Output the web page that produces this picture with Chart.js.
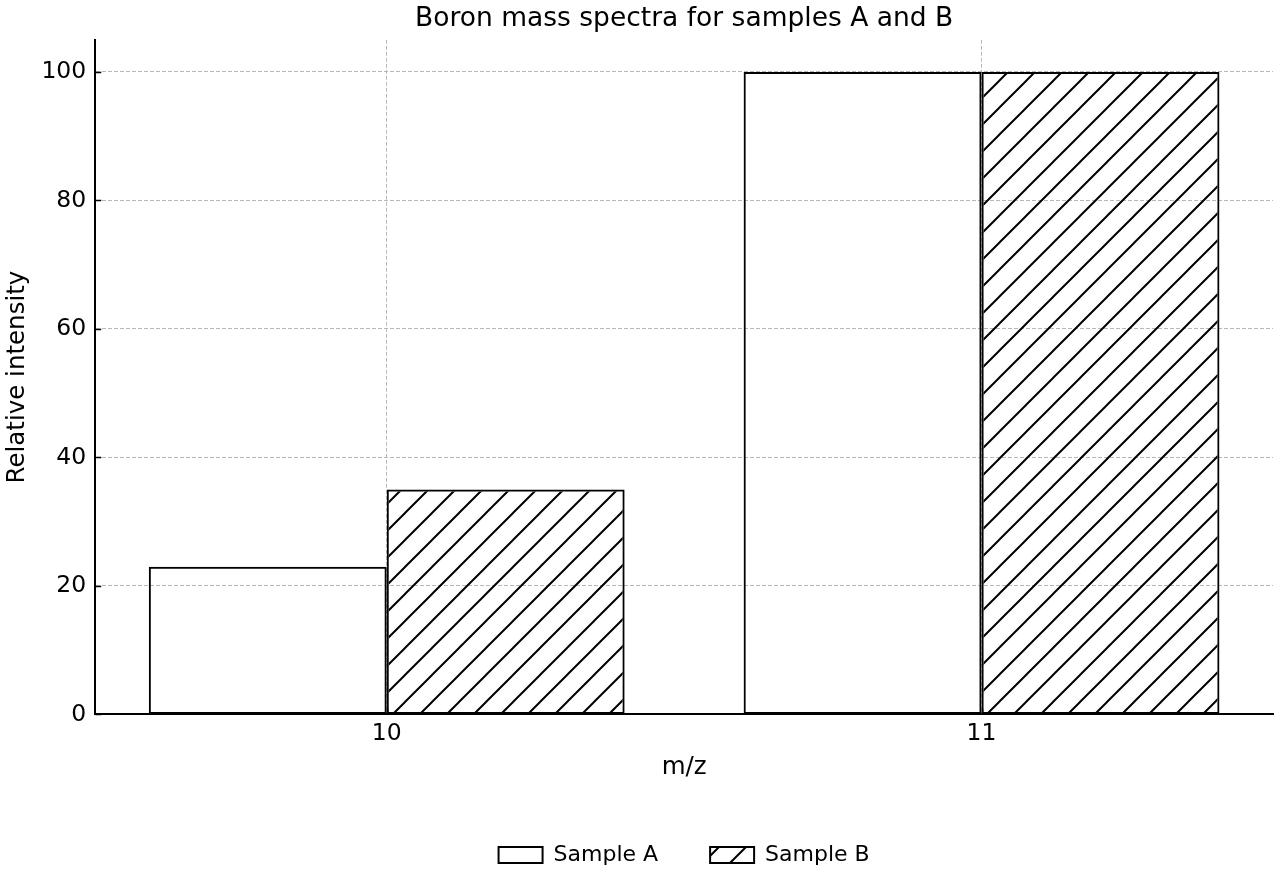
<!DOCTYPE html>
<html>
<head>
<meta charset="utf-8">
<title>Boron mass spectra</title>
<script src="https://cdn.jsdelivr.net/npm/chart.js@4.4.1/dist/chart.umd.min.js"></script>
<style>
  html, body { margin: 0; padding: 0; background: #fff; }
  #wrap { width: 1280px; height: 880px; }
</style>
</head>
<body>
<div id="wrap"><canvas id="myChart" width="1280" height="880"></canvas></div>
<script>
// data
const massNumbers = [10, 11];
const sampleA = [23, 100];
const sampleB = [35, 100];
const yTicks = [0, 20, 40, 60, 80, 100];

// "/" hatch like matplotlib
function makeHatch() {
  const s = 27;
  const c = document.createElement("canvas");
  c.width = s; c.height = s;
  const g = c.getContext("2d");
  g.strokeStyle = "#000";
  g.lineWidth = 2;
  g.beginPath();
  g.moveTo(-2, s + 2); g.lineTo(s + 2, -2);
  g.moveTo(-2, 2); g.lineTo(2, -2);
  g.moveTo(s - 2, s + 2); g.lineTo(s + 2, s - 2);
  g.stroke();
  return g.createPattern(c, "repeat");
}
const hatch = makeHatch();

// small inward tick marks (matplotlib style)
const innerTicks = {
  id: "innerTicks",
  afterDraw(chart) {
    const ctx = chart.ctx;
    const area = chart.chartArea;
    const x = chart.scales.x, y = chart.scales.y;
    ctx.save();
    ctx.strokeStyle = "#000";
    ctx.lineWidth = 1.6;
    ctx.beginPath();
    y.ticks.forEach((t, i) => {
      const py = Math.round(y.getPixelForTick(i)) + 0.5;
      ctx.moveTo(area.left, py); ctx.lineTo(area.left + 6, py);
    });
    x.ticks.forEach((t, i) => {
      const px = Math.round(x.getPixelForTick(i)) + 0.5;
      ctx.moveTo(px, area.bottom); ctx.lineTo(px, area.bottom - 6);
    });
    ctx.stroke();
    ctx.restore();
  }
};

const font = "'DejaVu Sans', sans-serif";
Chart.defaults.font.family = font;
Chart.defaults.color = "#000";

new Chart(document.getElementById("myChart"), {
  type: "bar",
  data: {
    datasets: [
      {
        label: "Sample A",
        data: massNumbers.map((m, i) => ({ x: m, y: sampleA[i] })),
        backgroundColor: "rgba(0,0,0,0)",
        borderColor: "#000",
        borderWidth: 2,
        borderSkipped: false,
        categoryPercentage: 0.8,
        barPercentage: 1
      },
      {
        label: "Sample B",
        data: massNumbers.map((m, i) => ({ x: m, y: sampleB[i] })),
        backgroundColor: hatch,
        borderColor: "#000",
        borderWidth: 2,
        borderSkipped: false,
        categoryPercentage: 0.8,
        barPercentage: 1
      }
    ]
  },
  options: {
    responsive: false,
    animation: false,
    layout: { padding: { left: 0, right: 7, top: 0, bottom: 4 } },
    plugins: {
      title: {
        display: true,
        fullSize: false,
        text: "Boron mass spectra for samples A and B",
        font: { size: 26.5, weight: "normal" },
        padding: { top: 3, bottom: 5 }
      },
      legend: {
        position: "bottom",
        fullSize: false,
        labels: {
          boxWidth: 44,
          boxHeight: 16,
          padding: 52,
          font: { size: 22 }
        }
      },
      tooltip: { enabled: false }
    },
    scales: {
      x: {
        type: "linear",
        min: 9.51,
        max: 11.49,
        offset: false,
        z: 1,
        afterBuildTicks: s => { s.ticks = massNumbers.map(v => ({ value: v })); },
        ticks: { font: { size: 23.5 }, padding: 5, callback: v => String(v) },
        grid: { color: "#b8b8b8", lineWidth: 1, drawTicks: false, offset: false },
        border: { display: true, color: "#000", width: 2, dash: [4, 2] },
        title: { display: true, text: "m/z", font: { size: 24.5 }, padding: { top: 0, bottom: 10 } }
      },
      y: {
        min: 0,
        max: 105,
        z: 1,
        afterBuildTicks: s => { s.ticks = yTicks.map(v => ({ value: v })); },
        ticks: { font: { size: 23.5 }, padding: 9 },
        grid: { color: "#b8b8b8", lineWidth: 1, drawTicks: false },
        border: { display: true, color: "#000", width: 2, dash: [4, 2] },
        title: { display: true, text: "Relative intensity", font: { size: 24.5 }, padding: { top: 3, bottom: 0 } }
      }
    }
  },
  plugins: [innerTicks]
});
</script>
</body>
</html>
